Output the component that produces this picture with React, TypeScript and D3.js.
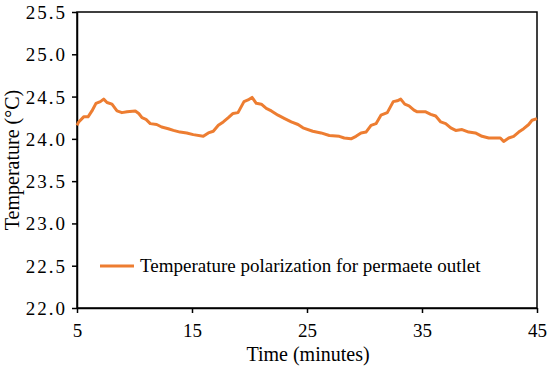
import { useEffect, useRef } from 'react'
import * as d3 from 'd3'

// time (minutes) and outlet temperature (°C)
const times = [
  5.0, 5.15, 5.58, 5.96, 6.3, 6.65, 7.03, 7.32, 7.61, 8.04, 8.48, 8.91, 9.35, 10.07, 10.37, 10.65, 11.0, 11.37,
  11.93, 12.36, 12.94, 13.38, 13.96, 14.54, 15.11, 15.98, 16.42, 16.85, 17.29, 17.72, 18.16,
  18.57, 19.0, 19.52, 19.87, 20.22, 20.59, 21.03, 21.46, 21.9, 22.48, 23.06, 23.63, 24.22, 24.65,
  25.5, 26.22, 26.94, 27.81, 28.24, 28.83, 29.26, 29.7, 30.13, 30.57, 31.0, 31.43, 31.98,
  32.5, 32.85, 33.15, 33.5, 33.87, 34.3, 34.59, 35.32, 35.76, 36.19, 36.63, 37.06, 37.5, 37.93, 38.48,
  39.06, 39.64, 40.22, 40.8, 41.37, 41.81, 42.1, 42.54, 42.97, 43.41, 43.84, 44.28, 44.57, 45.0,
]
const temps = [
  24.16, 24.2, 24.26, 24.26, 24.33, 24.42, 24.44, 24.47, 24.43, 24.41, 24.33, 24.31, 24.32, 24.33, 24.3, 24.25, 24.23, 24.18,
  24.17, 24.14, 24.12, 24.1, 24.08, 24.07, 24.05, 24.03, 24.07, 24.09, 24.16, 24.2, 24.25,
  24.3, 24.31, 24.44, 24.46, 24.49, 24.42, 24.41, 24.36, 24.33, 24.28, 24.24, 24.2, 24.17, 24.13,
  24.09, 24.07, 24.04, 24.03, 24.01, 24.0, 24.03, 24.07, 24.08, 24.16, 24.18, 24.28, 24.31,
  24.44, 24.45, 24.47, 24.41, 24.39, 24.34, 24.32, 24.32, 24.29, 24.27, 24.2, 24.18, 24.13, 24.1, 24.11,
  24.08, 24.07, 24.03, 24.01, 24.01, 24.01, 23.97, 24.01, 24.03, 24.08, 24.12, 24.17, 24.22, 24.24,
]
const xTicks = [5, 15, 25, 35, 45]
const yTicks = [22.0, 22.5, 23.0, 23.5, 24.0, 24.5, 25.0, 25.5]
const seriesName = 'Temperature polarization for permaete outlet'

const App = () => {
  const ref = useRef<SVGSVGElement>(null)

  useEffect(() => {
    const w = 550
    const h = 370
    const left = 77, right = 537, top = 12, bottom = 308
    const font = '"Liberation Serif", "Times New Roman", serif'

    const svg = d3.select(ref.current)
    svg.selectAll('*').remove()
    svg.attr('width', w).attr('height', h).style('background', '#fff')

    const x = d3.scaleLinear().domain([5, 45]).range([left, right])
    const y = d3.scaleLinear().domain([22, 25.5]).range([bottom, top])

    // frame
    svg.append('rect')
      .attr('x', left).attr('y', top)
      .attr('width', right - left).attr('height', bottom - top)
      .attr('fill', 'none').attr('stroke', '#000').attr('stroke-width', 1.5)

    const xAxis = svg.append('g')
      .attr('transform', `translate(0, ${bottom})`)
      .call(d3.axisBottom(x).tickValues(xTicks).tickSize(5).tickSizeOuter(0).tickFormat(d3.format('d')))
    const yAxis = svg.append('g')
      .attr('transform', `translate(${left}, 0)`)
      .call(d3.axisLeft(y).tickValues(yTicks).tickSize(5).tickSizeOuter(0).tickFormat(d3.format('.1f')))

    for (const g of [xAxis, yAxis]) {
      g.attr('font-family', null).attr('font-size', null)
      g.select('.domain').attr('stroke', '#000').attr('stroke-width', 1.5)
      g.selectAll('.tick line').attr('stroke', '#000').attr('stroke-width', 1.5)
      g.selectAll('.tick text')
        .attr('fill', '#000')
        .style('font-family', font)
        .style('font-size', '19px')
    }
    xAxis.selectAll('.tick text').attr('dy', '0').attr('y', 29)
    yAxis.selectAll('.tick text').attr('dy', '0.34em').attr('x', -10)
      .style('letter-spacing', '2px')

    // axis titles
    svg.append('text')
      .attr('x', (left + right) / 2 + 1).attr('y', 361)
      .attr('text-anchor', 'middle')
      .style('font-family', font).style('font-size', '20px')
      .text('Time (minutes)')

    svg.append('text')
      .attr('transform', `translate(19, ${(top + bottom) / 2}) rotate(-90)`)
      .attr('text-anchor', 'middle')
      .style('font-family', font).style('font-size', '20px')
      .text('Temperature (°C)')

    // series
    const pts = times.map((t, i) => [t, temps[i]] as [number, number])
    svg.append('path')
      .datum(pts)
      .attr('fill', 'none')
      .attr('stroke', '#ED7D31')
      .attr('stroke-width', 3)
      .attr('stroke-linejoin', 'round')
      .attr('d', d3.line<[number, number]>().x(d => x(d[0])).y(d => y(d[1])))

    // legend
    svg.append('line')
      .attr('x1', 100).attr('x2', 134).attr('y1', 266).attr('y2', 266)
      .attr('stroke', '#ED7D31').attr('stroke-width', 3)
    svg.append('text')
      .attr('x', 140).attr('y', 272)
      .style('font-family', font).style('font-size', '19px')
      .text(seriesName)
  }, [])

  return (
    <svg ref={ref} style={{ position: 'absolute', left: 0, top: 0 }}></svg>
  )
}

export default App
